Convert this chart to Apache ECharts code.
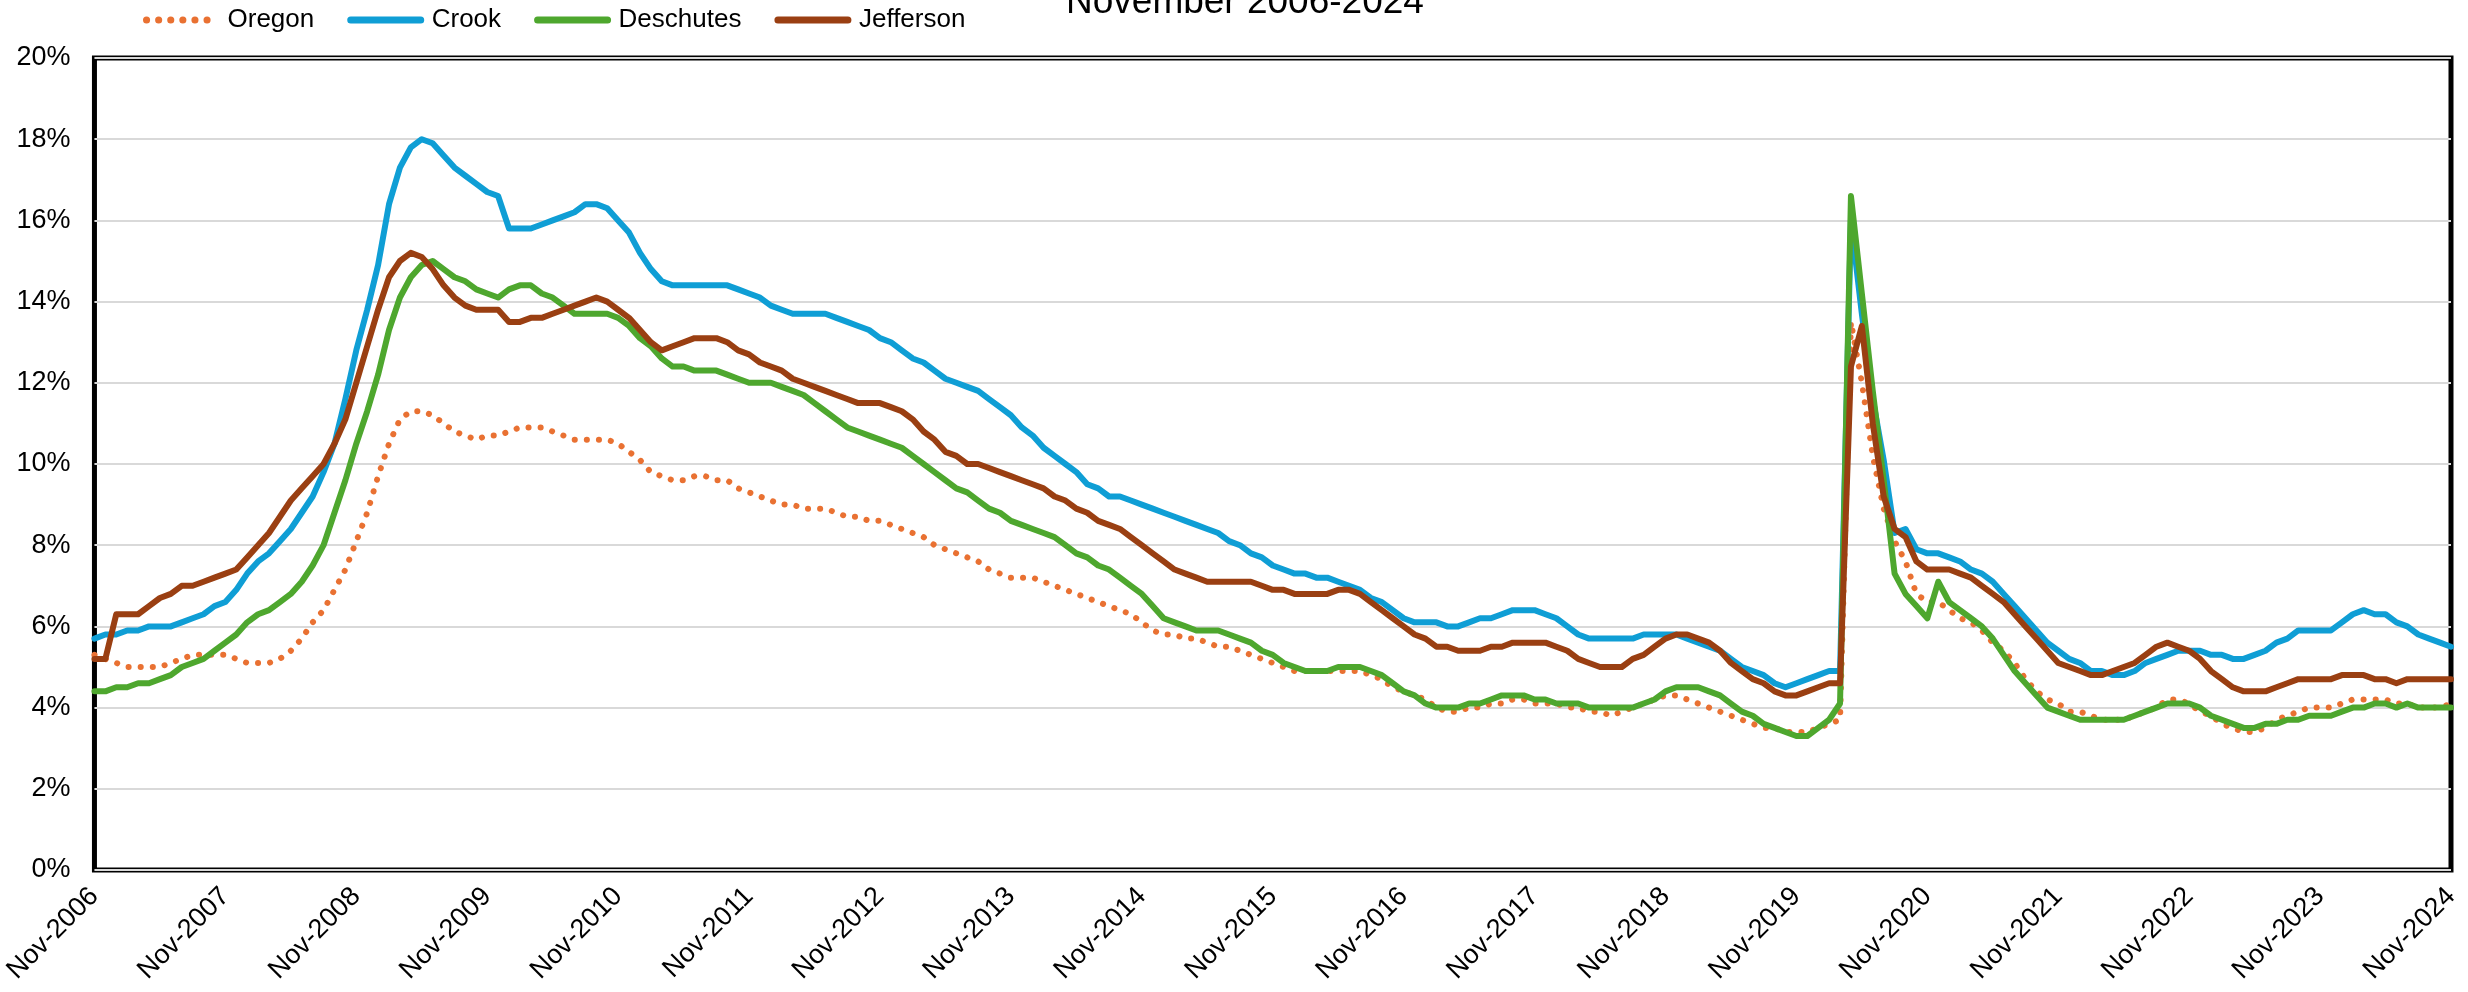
<!DOCTYPE html>
<html>
<head>
<meta charset="utf-8">
<title>Unemployment rate, November 2006-2024</title>
<script src="https://cdn.jsdelivr.net/npm/echarts@6/dist/echarts.min.js"></script>
<style>
  html, body { margin: 0; padding: 0; background: #fff; }
  #chart { width: 2468px; height: 992px; }
</style>
</head>
<body>
<div id="chart"></div>
<script>
'use strict';

// monthly rates (%), Nov-2006 .. Nov-2024, one row = 12 months starting in November
var oregon = [
  5.3, 5.2, 5.1, 5.0, 5.0, 5.0, 5.0, 5.1, 5.2, 5.3, 5.3, 5.3,
  5.3, 5.2, 5.1, 5.1, 5.1, 5.2, 5.4, 5.7, 6.1, 6.4, 6.9, 7.4,
  8.1, 8.8, 9.7, 10.5, 11.1, 11.3, 11.3, 11.2, 11.0, 10.8, 10.7, 10.6,
  10.7, 10.7, 10.8, 10.9, 10.9, 10.9, 10.8, 10.7, 10.6, 10.6, 10.6, 10.6,
  10.5, 10.3, 10.1, 9.8, 9.7, 9.6, 9.6, 9.7, 9.7, 9.6, 9.6, 9.4,
  9.3, 9.2, 9.1, 9.0, 9.0, 8.9, 8.9, 8.9, 8.8, 8.7, 8.7, 8.6,
  8.6, 8.5, 8.4, 8.3, 8.2, 8.0, 7.9, 7.8, 7.7, 7.6, 7.4, 7.3,
  7.2, 7.2, 7.2, 7.1, 7.0, 6.9, 6.8, 6.7, 6.6, 6.5, 6.4, 6.3,
  6.1, 5.9, 5.8, 5.8, 5.7, 5.7, 5.6, 5.5, 5.5, 5.4, 5.3, 5.2,
  5.1, 5.0, 4.9, 4.9, 4.9, 4.9, 4.9, 4.9, 4.9, 4.8, 4.7, 4.5,
  4.4, 4.3, 4.2, 4.0, 3.9, 3.9, 4.0, 4.0, 4.1, 4.1, 4.2, 4.2,
  4.1, 4.1, 4.1, 4.0, 4.0, 3.9, 3.9, 3.8, 3.9, 4.0, 4.1, 4.2,
  4.3, 4.3, 4.2, 4.1, 4.0, 3.9, 3.8, 3.7, 3.6, 3.5, 3.5, 3.4,
  3.4, 3.4, 3.5, 3.6, 3.7, 13.5, 12.0, 10.2, 8.9, 8.1, 7.6, 6.8,
  6.6, 6.6, 6.4, 6.2, 6.1, 5.9, 5.6, 5.4, 5.1, 4.7, 4.4, 4.2,
  4.1, 3.9, 3.9, 3.8, 3.7, 3.7, 3.7, 3.8, 3.9, 4.0, 4.2, 4.2,
  4.1, 3.9, 3.8, 3.6, 3.5, 3.4, 3.4, 3.5, 3.7, 3.8, 3.9, 4.0,
  4.0, 4.0, 4.1, 4.2, 4.2, 4.2, 4.2, 4.1, 4.1, 4.0, 4.0, 4.0,
  4.1
];

var crook = [
  5.7, 5.8, 5.8, 5.9, 5.9, 6.0, 6.0, 6.0, 6.1, 6.2, 6.3, 6.5,
  6.6, 6.9, 7.3, 7.6, 7.8, 8.1, 8.4, 8.8, 9.2, 9.8, 10.5, 11.6,
  12.8, 13.8, 14.9, 16.4, 17.3, 17.8, 18.0, 17.9, 17.6, 17.3, 17.1, 16.9,
  16.7, 16.6, 15.8, 15.8, 15.8, 15.9, 16.0, 16.1, 16.2, 16.4, 16.4, 16.3,
  16.0, 15.7, 15.2, 14.8, 14.5, 14.4, 14.4, 14.4, 14.4, 14.4, 14.4, 14.3,
  14.2, 14.1, 13.9, 13.8, 13.7, 13.7, 13.7, 13.7, 13.6, 13.5, 13.4, 13.3,
  13.1, 13.0, 12.8, 12.6, 12.5, 12.3, 12.1, 12.0, 11.9, 11.8, 11.6, 11.4,
  11.2, 10.9, 10.7, 10.4, 10.2, 10.0, 9.8, 9.5, 9.4, 9.2, 9.2, 9.1,
  9.0, 8.9, 8.8, 8.7, 8.6, 8.5, 8.4, 8.3, 8.1, 8.0, 7.8, 7.7,
  7.5, 7.4, 7.3, 7.3, 7.2, 7.2, 7.1, 7.0, 6.9, 6.7, 6.6, 6.4,
  6.2, 6.1, 6.1, 6.1, 6.0, 6.0, 6.1, 6.2, 6.2, 6.3, 6.4, 6.4,
  6.4, 6.3, 6.2, 6.0, 5.8, 5.7, 5.7, 5.7, 5.7, 5.7, 5.8, 5.8,
  5.8, 5.8, 5.7, 5.6, 5.5, 5.4, 5.2, 5.0, 4.9, 4.8, 4.6, 4.5,
  4.6, 4.7, 4.8, 4.9, 4.9, 16.0, 13.7, 11.6, 10.1, 8.3, 8.4, 7.9,
  7.8, 7.8, 7.7, 7.6, 7.4, 7.3, 7.1, 6.8, 6.5, 6.2, 5.9, 5.6,
  5.4, 5.2, 5.1, 4.9, 4.9, 4.8, 4.8, 4.9, 5.1, 5.2, 5.3, 5.4,
  5.4, 5.4, 5.3, 5.3, 5.2, 5.2, 5.3, 5.4, 5.6, 5.7, 5.9, 5.9,
  5.9, 5.9, 6.1, 6.3, 6.4, 6.3, 6.3, 6.1, 6.0, 5.8, 5.7, 5.6,
  5.5
];

var deschutes = [
  4.4, 4.4, 4.5, 4.5, 4.6, 4.6, 4.7, 4.8, 5.0, 5.1, 5.2, 5.4,
  5.6, 5.8, 6.1, 6.3, 6.4, 6.6, 6.8, 7.1, 7.5, 8.0, 8.8, 9.6,
  10.5, 11.3, 12.2, 13.3, 14.1, 14.6, 14.9, 15.0, 14.8, 14.6, 14.5, 14.3,
  14.2, 14.1, 14.3, 14.4, 14.4, 14.2, 14.1, 13.9, 13.7, 13.7, 13.7, 13.7,
  13.6, 13.4, 13.1, 12.9, 12.6, 12.4, 12.4, 12.3, 12.3, 12.3, 12.2, 12.1,
  12.0, 12.0, 12.0, 11.9, 11.8, 11.7, 11.5, 11.3, 11.1, 10.9, 10.8, 10.7,
  10.6, 10.5, 10.4, 10.2, 10.0, 9.8, 9.6, 9.4, 9.3, 9.1, 8.9, 8.8,
  8.6, 8.5, 8.4, 8.3, 8.2, 8.0, 7.8, 7.7, 7.5, 7.4, 7.2, 7.0,
  6.8, 6.5, 6.2, 6.1, 6.0, 5.9, 5.9, 5.9, 5.8, 5.7, 5.6, 5.4,
  5.3, 5.1, 5.0, 4.9, 4.9, 4.9, 5.0, 5.0, 5.0, 4.9, 4.8, 4.6,
  4.4, 4.3, 4.1, 4.0, 4.0, 4.0, 4.1, 4.1, 4.2, 4.3, 4.3, 4.3,
  4.2, 4.2, 4.1, 4.1, 4.1, 4.0, 4.0, 4.0, 4.0, 4.0, 4.1, 4.2,
  4.4, 4.5, 4.5, 4.5, 4.4, 4.3, 4.1, 3.9, 3.8, 3.6, 3.5, 3.4,
  3.3, 3.3, 3.5, 3.7, 4.1, 16.6, 14.2, 11.8, 9.6, 7.3, 6.8, 6.5,
  6.2, 7.1, 6.6, 6.4, 6.2, 6.0, 5.7, 5.3, 4.9, 4.6, 4.3, 4.0,
  3.9, 3.8, 3.7, 3.7, 3.7, 3.7, 3.7, 3.8, 3.9, 4.0, 4.1, 4.1,
  4.1, 4.0, 3.8, 3.7, 3.6, 3.5, 3.5, 3.6, 3.6, 3.7, 3.7, 3.8,
  3.8, 3.8, 3.9, 4.0, 4.0, 4.1, 4.1, 4.0, 4.1, 4.0, 4.0, 4.0,
  4.0
];

var jefferson = [
  5.2, 5.2, 6.3, 6.3, 6.3, 6.5, 6.7, 6.8, 7.0, 7.0, 7.1, 7.2,
  7.3, 7.4, 7.7, 8.0, 8.3, 8.7, 9.1, 9.4, 9.7, 10.0, 10.5, 11.1,
  12.0, 12.9, 13.8, 14.6, 15.0, 15.2, 15.1, 14.8, 14.4, 14.1, 13.9, 13.8,
  13.8, 13.8, 13.5, 13.5, 13.6, 13.6, 13.7, 13.8, 13.9, 14.0, 14.1, 14.0,
  13.8, 13.6, 13.3, 13.0, 12.8, 12.9, 13.0, 13.1, 13.1, 13.1, 13.0, 12.8,
  12.7, 12.5, 12.4, 12.3, 12.1, 12.0, 11.9, 11.8, 11.7, 11.6, 11.5, 11.5,
  11.5, 11.4, 11.3, 11.1, 10.8, 10.6, 10.3, 10.2, 10.0, 10.0, 9.9, 9.8,
  9.7, 9.6, 9.5, 9.4, 9.2, 9.1, 8.9, 8.8, 8.6, 8.5, 8.4, 8.2,
  8.0, 7.8, 7.6, 7.4, 7.3, 7.2, 7.1, 7.1, 7.1, 7.1, 7.1, 7.0,
  6.9, 6.9, 6.8, 6.8, 6.8, 6.8, 6.9, 6.9, 6.8, 6.6, 6.4, 6.2,
  6.0, 5.8, 5.7, 5.5, 5.5, 5.4, 5.4, 5.4, 5.5, 5.5, 5.6, 5.6,
  5.6, 5.6, 5.5, 5.4, 5.2, 5.1, 5.0, 5.0, 5.0, 5.2, 5.3, 5.5,
  5.7, 5.8, 5.8, 5.7, 5.6, 5.4, 5.1, 4.9, 4.7, 4.6, 4.4, 4.3,
  4.3, 4.4, 4.5, 4.6, 4.6, 12.4, 13.4, 11.0, 9.2, 8.4, 8.2, 7.6,
  7.4, 7.4, 7.4, 7.3, 7.2, 7.0, 6.8, 6.6, 6.3, 6.0, 5.7, 5.4,
  5.1, 5.0, 4.9, 4.8, 4.8, 4.9, 5.0, 5.1, 5.3, 5.5, 5.6, 5.5,
  5.4, 5.2, 4.9, 4.7, 4.5, 4.4, 4.4, 4.4, 4.5, 4.6, 4.7, 4.7,
  4.7, 4.7, 4.8, 4.8, 4.8, 4.7, 4.7, 4.6, 4.7, 4.7, 4.7, 4.7,
  4.7
];

var seriesNames = ['Oregon', 'Crook', 'Deschutes', 'Jefferson'];
var monthNames = ['Jan', 'Feb', 'Mar', 'Apr', 'May', 'Jun', 'Jul', 'Aug', 'Sep', 'Oct', 'Nov', 'Dec'];

// category labels Nov-2006 .. Nov-2024
var months = [];
for (var k = 0; k < oregon.length; k++) {
  var m = (10 + k) % 12;
  var y = 2006 + Math.floor((10 + k) / 12);
  months.push(monthNames[m] + '-' + y);
}

var FONT = '"Liberation Sans", Arial, Helvetica, sans-serif';

var chart = echarts.init(document.getElementById('chart'), null, { renderer: 'canvas' });

function lineSeries(name, data, color, dotted) {
  return {
    name: name,
    type: 'line',
    data: data,
    symbol: 'none',
    smooth: false,
    lineStyle: {
      color: color,
      width: 6,
      type: dotted ? [0.1, 12] : 'solid',
      cap: 'round',
      join: 'round'
    },
    itemStyle: { color: color }
  };
}

var option = {
  animation: false,
  backgroundColor: '#ffffff',
  title: {
    text: 'November 2006-2024',
    left: 1066,
    top: -16,
    padding: 0,
    textStyle: { fontFamily: FONT, fontSize: 37, fontWeight: 'normal', color: '#000' }
  },
  legend: {
    left: 138,
    top: 2,
    itemWidth: 70,
    itemHeight: 14,
    itemGap: 33,
    data: seriesNames,
    itemStyle: { opacity: 0 },
    lineStyle: { width: 7 },
    textStyle: { fontFamily: FONT, fontSize: 26, color: '#000', padding: [0, 0, 0, 6] }
  },
  grid: {
    left: 91,
    right: 17,
    top: 58,
    bottom: 122,
    show: true,
    borderColor: '#000',
    borderWidth: 5
  },
  xAxis: {
    type: 'category',
    data: months,
    boundaryGap: false,
    axisLine: { show: false },
    axisTick: { show: false },
    axisLabel: {
      interval: 11,
      rotate: 45,
      margin: 22,
      fontFamily: FONT,
      fontSize: 27,
      color: '#000'
    },
    splitLine: { show: false }
  },
  yAxis: {
    type: 'value',
    min: 0,
    max: 20,
    interval: 2,
    axisLine: { show: false },
    axisTick: { show: false },
    axisLabel: {
      formatter: '{value}%',
      margin: 24,
      fontFamily: FONT,
      fontSize: 27,
      color: '#000'
    },
    splitLine: { lineStyle: { color: '#d9d9d9', width: 2 } }
  },
  series: [
    lineSeries('Oregon', oregon, '#E97132', true),
    lineSeries('Crook', crook, '#0F9ED5', false),
    lineSeries('Deschutes', deschutes, '#4EA72E', false),
    lineSeries('Jefferson', jefferson, '#9A3F12', false)
  ]
};

chart.setOption(option);
</script>
</body>
</html>
